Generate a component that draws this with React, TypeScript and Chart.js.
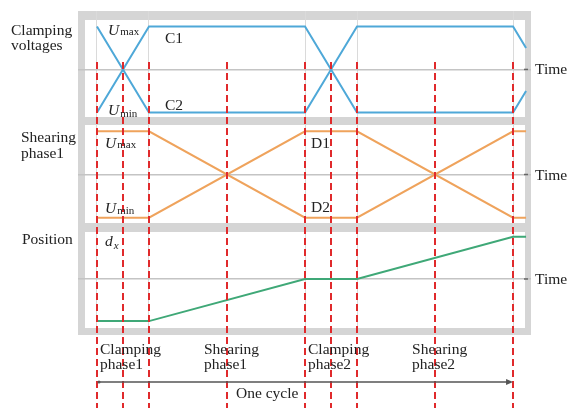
import React, { useEffect, useRef } from 'react';
import { Chart, registerables } from 'chart.js';

Chart.register(...registerables);

// ---- data ----
const times = [0, 2, 8, 10, 16, 16.5];
const clampC1 = [-1, 1, 1, -1, -1, -0.5];
const clampC2 = [1, -1, -1, 1, 1, 0.5];
const shearD1 = [-1, -1, 1, 1, -1, -1];
const shearD2 = [1, 1, -1, -1, 1, 1];
const position = [-1, -1, 0, 0, 1, 1];
const phaseMarks = [0, 1, 2, 5, 8, 9, 10, 13, 16];
const gridTimes = [0, 2, 8, 10, 16];
const phaseStarts = [0, 4, 8, 12];
const phaseLine1 = ['Clamping', 'Shearing', 'Clamping', 'Shearing'];
const phaseLine2 = ['phase1', 'phase1', 'phase2', 'phase2'];
const cycleStart = 0;
const cycleEnd = 16;

const SERIF = "'Liberation Serif', 'Times New Roman', serif";
const TEXT = '#222222';
const FS = '15.5px';

export default function App() {
  const ref = useRef<HTMLCanvasElement>(null);

  useEffect(() => {
    const canvas = ref.current!;
    const pts = (ys: number[]) => times.map((t, i) => ({ x: t, y: ys[i] }));

    const frame = { left: 78, right: 531, top: 11, bottom: 335 };
    const inner = { left: 85, right: 525 };
    const panels: [number, number][] = [[20, 117], [125, 223], [232, 328]];

    const plugin = {
      id: 'diagram',
      beforeDraw(chart: any) {
        const ctx = chart.ctx;
        ctx.save();
        ctx.fillStyle = '#ffffff';
        ctx.fillRect(0, 0, chart.width, chart.height);
        ctx.fillStyle = '#d5d5d5';
        ctx.fillRect(frame.left, frame.top, frame.right - frame.left, frame.bottom - frame.top);
        ctx.fillStyle = '#ffffff';
        panels.forEach(([t, b]) => ctx.fillRect(inner.left, t, inner.right - inner.left, b - t));
        ctx.restore();
      },
      afterDatasetsDraw(chart: any) {
        const ctx = chart.ctx;
        const xs = chart.scales.x;
        ctx.save();
        // red dashed phase markers
        ctx.strokeStyle = '#e02a2c';
        ctx.lineWidth = 2;
        ctx.setLineDash([7, 4]);
        phaseMarks.forEach((t) => {
          const x = Math.round(xs.getPixelForValue(t));
          ctx.beginPath();
          ctx.moveTo(x, 62);
          ctx.lineTo(x, 408);
          ctx.stroke();
        });
        ctx.setLineDash([]);

        // time axis arrow ticks and labels
        ['yC', 'yS', 'yP'].forEach((id) => {
          const y = chart.scales[id].getPixelForValue(0);
          ctx.strokeStyle = '#666';
          ctx.lineWidth = 1.5;
          ctx.beginPath();
          ctx.moveTo(524, y);
          ctx.lineTo(528, y);
          ctx.stroke();
          ctx.fillStyle = TEXT;
          ctx.font = `${FS} ${SERIF}`;
          ctx.textAlign = 'left';
          ctx.textBaseline = 'alphabetic';
          ctx.fillText('Time', 535, y + 5);
        });

        const txt = (s: string, x: number, y: number, font: string) => {
          ctx.font = font;
          ctx.fillStyle = TEXT;
          ctx.textAlign = 'left';
          ctx.textBaseline = 'alphabetic';
          ctx.fillText(s, x, y);
          return ctx.measureText(s).width;
        };
        const sub = (main: string, s: string, x: number, y: number, dy: number, italicSub = false) => {
          const w = txt(main, x, y, `italic ${FS} ${SERIF}`);
          txt(s, x + w + 1, y + dy, `${italicSub ? 'italic ' : ''}11px ${SERIF}`);
        };

        // left titles
        txt('Clamping', 11, 35, `${FS} ${SERIF}`);
        txt('voltages', 11, 50, `${FS} ${SERIF}`);
        txt('Shearing', 21, 142, `${FS} ${SERIF}`);
        txt('phase1', 21, 158, `${FS} ${SERIF}`);
        txt('Position', 22, 244, `${FS} ${SERIF}`);

        // inner labels
        sub('U', 'max', 108, 35, 0);
        sub('U', 'min', 108, 115, 2);
        txt('C1', 165, 43, `${FS} ${SERIF}`);
        txt('C2', 165, 110, `${FS} ${SERIF}`);
        sub('U', 'max', 105, 148, 0);
        sub('U', 'min', 105, 213, 1);
        txt('D1', 311, 148, `${FS} ${SERIF}`);
        txt('D2', 311, 212, `${FS} ${SERIF}`);
        sub('d', 'x', 105, 246, 3, true);

        // bottom phase labels
        phaseStarts.forEach((t, i) => {
          const x = xs.getPixelForValue(t) + 3;
          txt(phaseLine1[i], x, 354, `${FS} ${SERIF}`);
          txt(phaseLine2[i], x, 369, `${FS} ${SERIF}`);
        });

        // one cycle arrow
        const x0 = xs.getPixelForValue(cycleStart) + 2;
        const x1 = xs.getPixelForValue(cycleEnd);
        ctx.strokeStyle = '#555';
        ctx.fillStyle = '#555';
        ctx.lineWidth = 1.5;
        ctx.beginPath();
        ctx.moveTo(x0, 382);
        ctx.lineTo(x1 - 4, 382);
        ctx.stroke();
        ctx.beginPath();
        ctx.moveTo(x1, 382);
        ctx.lineTo(x1 - 7, 379);
        ctx.lineTo(x1 - 7, 385);
        ctx.closePath();
        ctx.fill();
        ctx.beginPath();
        ctx.arc(x0, 382, 1.5, 0, Math.PI * 2);
        ctx.fill();
        txt('One cycle', 236, 398, `${FS} ${SERIF}`);
        ctx.restore();
      },
    };

    const line = (data: number[], color: string, axis: string) => ({
      data: pts(data),
      borderColor: color,
      backgroundColor: color,
      borderWidth: 2,
      pointRadius: 0,
      tension: 0,
      yAxisID: axis,
      fill: false,
    });

    const yAxis = (min: number, max: number, weight: number, stackWeight: number) => ({
      type: 'linear',
      position: 'left',
      stack: 'panels',
      stackWeight,
      weight,
      min,
      max,
      afterBuildTicks: (s: any) => {
        s.ticks = [{ value: 0 }];
      },
      ticks: { display: false },
      border: { display: false },
      grid: { color: '#c4c4c4', lineWidth: 1.5, drawTicks: false },
    });

    const chart = new Chart(canvas, {
      type: 'line',
      data: {
        datasets: [
          line(clampC1, '#4ea8d8', 'yC'),
          line(clampC2, '#4ea8d8', 'yC'),
          line(shearD1, '#efa35c', 'yS'),
          line(shearD2, '#efa35c', 'yS'),
          line(position, '#3fa877', 'yP'),
        ],
      },
      options: {
        animation: false,
        responsive: false,
        devicePixelRatio: 1,
        layout: { padding: { left: 78, right: 42, top: 11, bottom: 73 } },
        plugins: { legend: { display: false }, tooltip: { enabled: false } },
        scales: {
          x: {
            type: 'linear',
            min: -0.73,
            max: 16.69,
            afterBuildTicks: (s: any) => {
              s.ticks = gridTimes.map((v) => ({ value: v }));
            },
            ticks: { display: false },
            border: { display: false },
            grid: { color: '#dadada', lineWidth: 1, drawTicks: false },
          },
          yC: yAxis(-1.2, 1.36, 3, 110),
          yS: yAxis(-1.24, 1.24, 2, 107),
          yP: yAxis(-1.33, 1.21, 1, 107),
        } as any,
      },
      plugins: [plugin],
    } as any);

    return () => chart.destroy();
  }, []);

  return (
    <div style={{ position: 'fixed', left: 0, top: 0, width: 573, height: 408 }}>
      <canvas ref={ref} width={573} height={408} style={{ display: 'block' }} />
    </div>
  );
}
